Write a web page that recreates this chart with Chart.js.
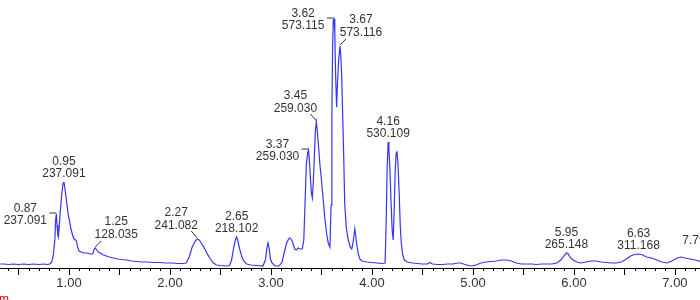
<!DOCTYPE html>
<html>
<head>
<meta charset="utf-8">
<script src="https://cdn.jsdelivr.net/npm/chart.js@4.4.1/dist/chart.umd.min.js"></script>
<style>
  html, body { margin: 0; padding: 0; background: #fff; }
  #wrap { position: relative; width: 700px; height: 300px; }
</style>
</head>
<body>
<div id="wrap"><canvas id="chrom"></canvas></div>
<script>
// retention time (min) and signal
const times = [
  0.32, 0.36, 0.40, 0.45, 0.50, 0.55, 0.60, 0.65, 0.70, 0.75, 0.79, 0.81,
  0.83, 0.845, 0.86, 0.868, 0.875, 0.882, 0.889, 0.895, 0.903, 0.915, 0.93, 0.942, 0.95, 0.958, 0.968, 0.978, 0.99,
  1.005, 1.02, 1.035, 1.05, 1.065, 1.075, 1.085, 1.10, 1.12, 1.15, 1.18, 1.21, 1.235, 1.25, 1.26, 1.275, 1.29, 1.31,
  1.34, 1.37, 1.40, 1.44, 1.48, 1.52, 1.57, 1.62, 1.67, 1.72, 1.78, 1.84, 1.90, 1.96, 2.02, 2.08, 2.13,
  2.16, 2.19, 2.22, 2.25, 2.27, 2.29, 2.31, 2.34, 2.37, 2.40, 2.43, 2.46, 2.50, 2.55, 2.59,
  2.61, 2.63, 2.65, 2.66, 2.67, 2.69, 2.71, 2.73, 2.76, 2.80, 2.86, 2.92,
  2.945, 2.96, 2.97, 2.98, 2.995, 3.01, 3.04, 3.08,
  3.11, 3.13, 3.155, 3.175, 3.19, 3.21, 3.235, 3.25, 3.27, 3.29, 3.31, 3.325,
  3.335, 3.35, 3.365, 3.372, 3.38, 3.39, 3.40, 3.41, 3.42, 3.43, 3.44, 3.45, 3.46, 3.47, 3.485, 3.50, 3.52, 3.535,
  3.55, 3.567, 3.584, 3.595, 3.603, 3.61, 3.617, 3.625, 3.632, 3.64, 3.65, 3.66, 3.67, 3.683, 3.69, 3.70, 3.71,
  3.72, 3.73, 3.745, 3.765, 3.785, 3.80, 3.815, 3.83, 3.838, 3.85, 3.865, 3.88, 3.90, 3.95, 4.00, 4.05, 4.10, 4.13,
  4.14, 4.15, 4.16, 4.168, 4.178, 4.19, 4.20, 4.21, 4.22, 4.23, 4.24, 4.248, 4.258, 4.27, 4.28, 4.29, 4.305, 4.32,
  4.35, 4.40, 4.45, 4.50, 4.55, 4.57, 4.60, 4.65, 4.70, 4.75, 4.80, 4.85, 4.88, 4.92, 4.96, 4.99,
  5.03, 5.08, 5.13, 5.18, 5.23, 5.28, 5.33, 5.38, 5.43, 5.48, 5.53, 5.58, 5.63, 5.68, 5.73, 5.78, 5.83, 5.87,
  5.90, 5.925, 5.94, 5.96, 5.99, 6.03, 6.07, 6.12, 6.17, 6.22, 6.27, 6.32, 6.37, 6.42, 6.47, 6.52, 6.56, 6.60,
  6.64, 6.68, 6.72, 6.77, 6.82, 6.87, 6.92, 6.97, 7.02, 7.06, 7.10, 7.15, 7.20, 7.25
];
const intensity = [
  1, 1, 0.5, 1, 0.5, 1, 0.5, 1, 0.5, 1, 0.5, 1,
  3, 10, 25, 45, 51, 40, 30, 28, 38, 55, 72, 82, 83, 78, 70, 62, 52,
  44, 36, 30, 26, 25, 24, 18, 14, 13, 12, 12, 11, 11, 16, 17, 15, 13, 12,
  10, 9, 8, 7, 6, 5.5, 5, 4, 3.5, 3, 3, 2.5, 2.5, 2, 2, 1.5, 1.5,
  2, 8, 18, 24, 26, 25, 22, 17, 11, 6, 2, 0, -0.5, -1, -0.5,
  5, 17, 26, 28, 25, 16, 9, 4, 1, 0, -0.5, -1,
  5, 17, 22, 18, 6, 2, -1, -1,
  3, 12, 22, 26, 27, 24, 16, 15, 17, 16, 16, 25,
  55, 100, 113, 115, 105, 88, 72, 67, 85, 110, 135, 143, 132, 120, 100, 85, 62, 45,
  32, 22, 18, 60, 150, 215, 245, 246, 232, 190, 158, 185, 205, 219, 212, 190, 150,
  110, 62, 38, 25, 18, 16, 24, 36, 30, 20, 11, 6, 4, 3, 2.5, 2, 1.5, 2,
  40, 95, 123, 115, 95, 60, 35, 25, 55, 95, 112, 113, 100, 70, 40, 22, 10, 5,
  3, 2, 1.5, 1, 1, 2.5, 1, 0.5, 0.5, 1, 1, 2, 2, 0.5, -0.5, -1,
  0, 2, 3, 3.5, 4, 5, 5, 4, 2, 1, 1, 1, 0.5, 1, 1, 1, 2, 5,
  9, 12, 11.5, 8, 5, 3, 2, 3, 4, 4, 3, 2.5, 2, 2, 3, 6, 9, 10.5,
  11, 10, 8, 7, 5, 3, 2, 4, 7, 8, 7, 6, 5, 3.5
];

const xTickValues = [1, 2, 3, 4, 5, 6, 7];

// peak annotations: retention time text, m/z text, where the peak sits
const labelRt = ['0.87', '0.95', '1.25', '2.27', '2.65', '3.37', '3.45', '3.62', '3.67', '4.16', '5.95', '6.63', '7.79'];
const labelMz = ['237.091', '237.091', '128.035', '241.082', '218.102', '259.030', '259.030', '573.115', '573.116', '530.109', '265.148', '311.168', ''];
const labelTime = [0.875, 0.95, 1.26, 2.27, 2.66, 3.372, 3.45, 3.625, 3.683, 4.16, 5.925, 6.64, 7.79];

const labelStyle = ['left', 'above', 'upRight', 'upLeft', 'above', 'left', 'upLeft', 'left', 'upRight', 'above', 'above', 'above', 'above'];
const styleOffsets = {
  left:    { dx: -31, dy1: -5.5, dy2: 7, leader: [-7, -1, 0, -1] },
  above:   { dx: 0, dy1: -20.5, dy2: -8, leader: null },
  upLeft:  { dx: -21, dy1: -26, dy2: -13.5, leader: [-6, -8, 0, -1] },
  upRight: { dx: 21, dy1: -26, dy2: -13.5, leader: [0, -1, 6, -7] },
};

function nearestValue(t) {
  let best = 0;
  for (let i = 1; i < times.length; i++) {
    if (Math.abs(times[i] - t) < Math.abs(times[best] - t)) best = i;
  }
  return intensity[best];
}

const axisTicks = {
  id: 'axisTicks',
  afterDraw(chart) {
    const ctx = chart.ctx;
    const xs = chart.scales.x;
    const y0 = chart.chartArea.bottom;
    ctx.save();
    ctx.strokeStyle = '#000';
    ctx.lineWidth = 1;
    ctx.beginPath();
    for (let k = Math.ceil(xs.min * 10); k <= Math.floor(xs.max * 10); k++) {
      const px = Math.round(xs.getPixelForValue(k / 10)) + 0.5;
      const len = k % 5 === 0 ? 7 : 3;
      ctx.moveTo(px, y0);
      ctx.lineTo(px, y0 + len);
    }
    ctx.stroke();

    ctx.fillStyle = '#e00000';
    ctx.font = '12px "Liberation Sans", Arial, sans-serif';
    ctx.textAlign = 'left';
    ctx.textBaseline = 'alphabetic';
    ctx.fillText('m', -1, 303);
    ctx.restore();
  }
};

const peakLabels = {
  id: 'peakLabels',
  afterDatasetsDraw(chart) {
    const ctx = chart.ctx;
    const xs = chart.scales.x;
    const ys = chart.scales.y;
    const right = chart.chartArea.right - 6;
    ctx.save();
    ctx.font = '12px "Liberation Sans", Arial, sans-serif';
    ctx.fillStyle = '#333';
    ctx.strokeStyle = '#333';
    ctx.lineWidth = 1;
    ctx.textAlign = 'center';
    ctx.textBaseline = 'middle';
    labelRt.forEach((rt, i) => {
      const st = styleOffsets[labelStyle[i]];
      const px = Math.min(xs.getPixelForValue(labelTime[i]), right);
      const py = ys.getPixelForValue(nearestValue(labelTime[i]));
      ctx.fillText(rt, px + st.dx, py + st.dy1);
      if (labelMz[i]) ctx.fillText(labelMz[i], px + st.dx, py + st.dy2);
      if (st.leader) {
        const l = st.leader;
        ctx.beginPath();
        ctx.moveTo(px + l[0], py + l[1]);
        ctx.lineTo(px + l[2], py + l[3]);
        ctx.stroke();
      }
    });
    ctx.restore();
  }
};

new Chart(document.getElementById('chrom'), {
  type: 'scatter',
  data: {
    datasets: [{
      data: times.map((t, i) => ({ x: t, y: intensity[i] })),
      showLine: true,
      borderColor: '#3535f5',
      borderWidth: 1.2,
      pointRadius: 0,
      tension: 0,
    }],
  },
  options: {
    responsive: true,
    maintainAspectRatio: false,
    animation: false,
    layout: { padding: 0 },
    plugins: { legend: { display: false }, tooltip: { enabled: false } },
    scales: {
      x: {
        type: 'linear',
        min: 0.317,
        max: 7.248,
        grid: { display: false, drawTicks: false },
        border: { display: true, color: '#000', width: 1 },
        afterBuildTicks: (scale) => { scale.ticks = xTickValues.map(v => ({ value: v })); },
        afterFit: (scale) => { scale.height = 32; },
        ticks: {
          autoSkip: false,
          maxRotation: 0,
          padding: 8,
          color: '#333',
          font: { family: '"Liberation Sans", Arial, sans-serif', size: 13 },
          callback: (v) => Number(v).toFixed(2),
        },
      },
      y: {
        display: false,
        min: -3,
        max: 265,
      },
    },
  },
  plugins: [axisTicks, peakLabels],
});
</script>
</body>
</html>
